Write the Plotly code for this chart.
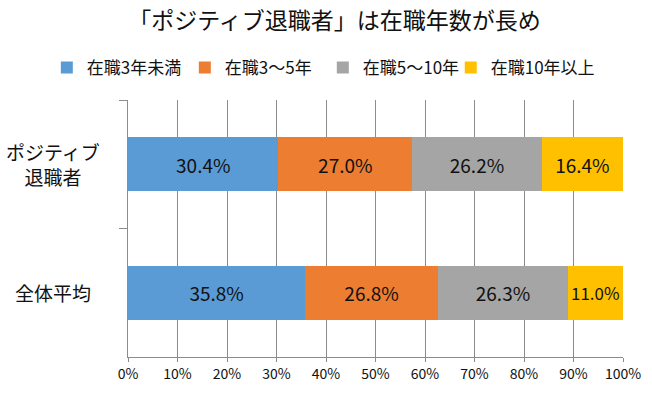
import plotly.graph_objects as go

categories = ["ポジティブ退職者", "全体平均"]
category_labels = ["ポジティブ<br>退職者", "全体平均"]
series_names = ["在職3年未満", "在職3～5年", "在職5～10年", "在職10年以上"]
under3 = [30.4, 35.8]
y3to5 = [27.0, 26.8]
y5to10 = [26.2, 26.3]
over10 = [16.4, 11.0]
colors = ["#5B9BD5", "#ED7D31", "#A5A5A5", "#FFC000"]
x_ticks = [0, 10, 20, 30, 40, 50, 60, 70, 80, 90, 100]

FONT = "Noto Sans CJK JP"

fig = go.Figure()
legend_ids = ["legend", "legend", "legend", "legend2"]
for name, vals, c, lg in zip(series_names, [under3, y3to5, y5to10, over10], colors, legend_ids):
    fig.add_trace(go.Bar(
        y=categories, x=vals, name=name, orientation="h", legend=lg,
        marker=dict(color=c, line=dict(width=0)),
        text=[f"{v:.1f}%" for v in vals], textposition="inside",
        insidetextanchor="middle",
        textfont=dict(size=19, color="#111111", family=FONT),
        hoverinfo="skip",
    ))

for lab, cat in zip(category_labels, categories):
    fig.add_annotation(x=-0.152, xref="paper", y=cat, yref="y", text=lab,
                       showarrow=False, align="center", xanchor="center",
                       font=dict(size=19, color="#111111", family=FONT))

legend_common = dict(orientation="h", xref="paper", yref="paper",
                     xanchor="left", y=1.125, yanchor="middle",
                     font=dict(size=17, family=FONT), itemclick=False,
                     traceorder="normal", itemwidth=30, bgcolor="rgba(0,0,0,0)")

fig.update_layout(
    barmode="stack",
    bargap=0.58,
    width=652, height=394,
    margin=dict(l=128, r=29, t=100, b=37, autoexpand=False),
    paper_bgcolor="white", plot_bgcolor="white",
    font=dict(family=FONT, color="#111111"),
    title=dict(text="「ポジティブ退職者」は在職年数が長め", x=0.513, xanchor="center",
               xref="container", yref="container",
               y=0.947, yanchor="middle", font=dict(size=23, color="#111111", family=FONT)),
    legend=dict(x=-0.164, entrywidth=93, entrywidthmode="pixels", **legend_common),
    legend2=dict(x=0.652, entrywidth=115, entrywidthmode="pixels", **legend_common),
    showlegend=True,
)
fig.update_xaxes(range=[0, 100], tickvals=x_ticks, ticktext=[f"{v}%" for v in x_ticks],
                 showgrid=True, gridcolor="#8c8c8c", gridwidth=1,
                 showline=True, linecolor="#8c8c8c", linewidth=1,
                 ticks="outside", ticklen=4, tickcolor="#8c8c8c", automargin=False,
                 tickfont=dict(size=14, family=FONT, color="#111111"), zeroline=False,
                 fixedrange=True)
fig.update_yaxes(autorange="reversed", showticklabels=False, tickson="boundaries",
                 ticks="outside", ticklen=8, tickcolor="#8c8c8c", automargin=False,
                 showline=True, linecolor="#8c8c8c", linewidth=1, showgrid=False,
                 fixedrange=True)

fig.write_html("out.html", config={"displayModeBar": False},
               post_script="document.body.style.margin='0px';")
